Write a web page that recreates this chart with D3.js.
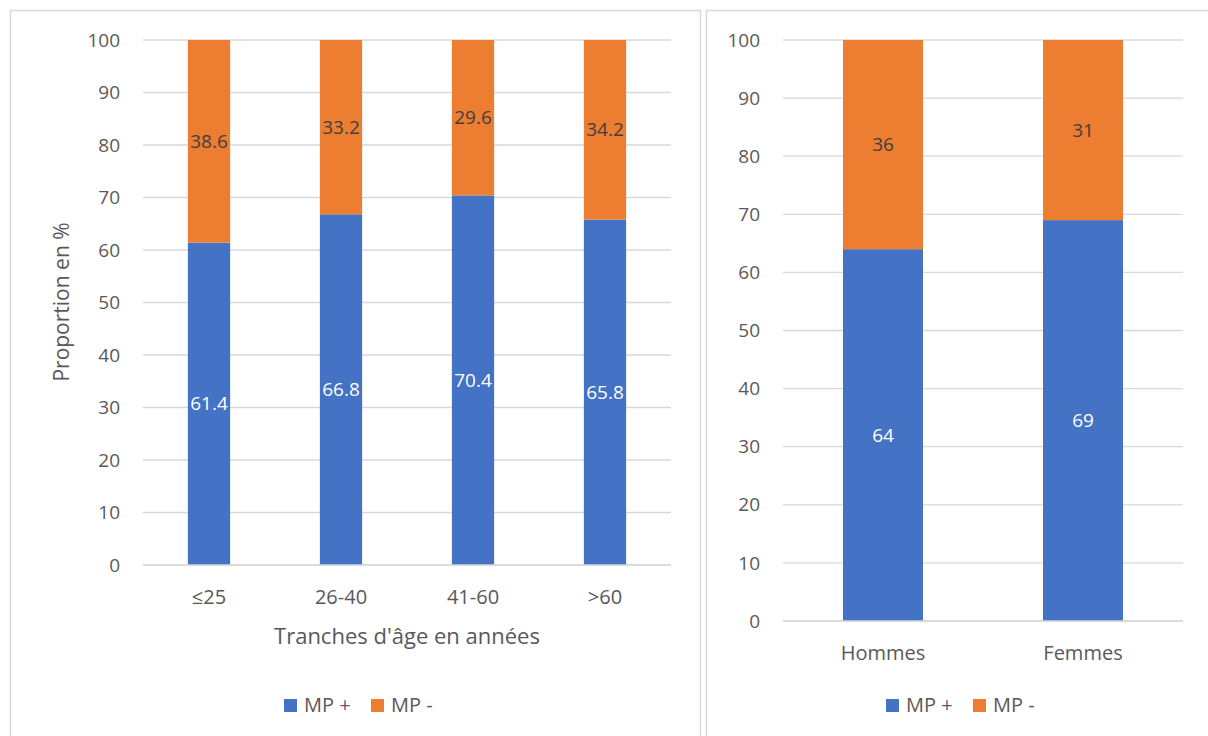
<!DOCTYPE html>
<html><head><meta charset="utf-8">
<script src="https://cdn.jsdelivr.net/npm/d3@7"></script>
<style>body{margin:0;background:#fff;} text{font-family:"Open Sans","Noto Sans",sans-serif;}</style>
</head><body>
<svg id="c" width="1208" height="736"></svg>
<script>
const ageCategories = ["≤25", "26-40", "41-60", ">60"];
const ageMPplus = [61.4, 66.8, 70.4, 65.8];
const ageMPminus = [38.6, 33.2, 29.6, 34.2];
const sexCategories = ["Hommes", "Femmes"];
const sexMPplus = [64, 69];
const sexMPminus = [36, 31];
const yTicks = [0,10,20,30,40,50,60,70,80,90,100];
const seriesNames = ["MP +", "MP -"];
const colors = ["#4472C4", "#ED7D31"];

const svg = d3.select("#c");
svg.append("rect").attr("x",10.5).attr("y",10.5).attr("width",690).attr("height",740).attr("fill","none").attr("stroke","#d9d9d9").attr("stroke-width",1.5);
svg.append("rect").attr("x",706.5).attr("y",10.5).attr("width",520).attr("height",740).attr("fill","none").attr("stroke","#d9d9d9").attr("stroke-width",1.5);

function panel(o){
  const g = svg.append("g");
  const x = d3.scaleBand().domain(o.cats).range([o.x0,o.x1]).paddingInner(o.pad).paddingOuter(o.pad/2);
  const y = d3.scaleLinear().domain([0,100]).range([o.y0,o.y1]);
  g.selectAll(".grid").data(yTicks).join("line")
    .attr("x1",o.x0).attr("x2",o.x1).attr("y1",d=>y(d)).attr("y2",d=>y(d))
    .attr("stroke","#d9d9d9").attr("stroke-width",1.3);
  g.selectAll(".yl").data(yTicks).join("text")
    .attr("x",o.x0-23).attr("y",d=>y(d)).attr("dy","0.35em").attr("text-anchor","end")
    .attr("font-size",19).attr("fill","#595959").text(d=>d);
  const stack = o.cats.map((c,i)=>({c, a:o.plus[i], b:o.minus[i]}));
  g.selectAll(".bp").data(stack).join("rect")
    .attr("x",d=>x(d.c)).attr("width",x.bandwidth()).attr("y",d=>y(d.a)).attr("height",d=>y(0)-y(d.a)).attr("fill",colors[0]);
  g.selectAll(".bm").data(stack).join("rect")
    .attr("x",d=>x(d.c)).attr("width",x.bandwidth()).attr("y",d=>y(d.a+d.b)).attr("height",d=>y(d.a)-y(d.a+d.b)).attr("fill",colors[1]);
  g.append("line").attr("x1",o.x0).attr("x2",o.x1).attr("y1",y(0)).attr("y2",y(0)).attr("stroke","#d9d9d9").attr("stroke-width",1.5);
  g.selectAll(".lp").data(stack).join("text")
    .attr("x",d=>x(d.c)+x.bandwidth()/2).attr("y",d=>y(d.a/2)).attr("dy","0.35em").attr("text-anchor","middle")
    .attr("font-size",19).attr("fill","#ffffff").text(d=>d.a);
  g.selectAll(".lm").data(stack).join("text")
    .attr("x",d=>x(d.c)+x.bandwidth()/2).attr("y",d=>y(d.a+d.b/2)).attr("dy","0.35em").attr("text-anchor","middle")
    .attr("font-size",19).attr("fill","#404040").text(d=>d.b);
  g.selectAll(".xl").data(o.cats).join("text")
    .attr("x",d=>x(d)+x.bandwidth()/2).attr("y",y(0)+32).attr("dy","0.35em").attr("text-anchor","middle")
    .attr("font-size",20).attr("fill","#595959").text(d=>d);
  const lg = g.append("g").attr("transform",`translate(${o.legX},${o.legY})`);
  seriesNames.forEach((n,i)=>{
    const xx = i*87;
    lg.append("rect").attr("x",xx).attr("y",-6).attr("width",13).attr("height",13).attr("fill",colors[i]);
    lg.append("text").attr("x",xx+20).attr("y",0).attr("dy","0.35em").attr("font-size",20).attr("fill","#595959").text(n);
  });
  return {x,y,g};
}

const p1 = panel({cats:ageCategories, plus:ageMPplus, minus:ageMPminus, x0:143, x1:671, y0:565, y1:40, pad:0.68, legX:284, legY:705});
p1.g.append("text").attr("x",407).attr("y",636).attr("dy","0.35em").attr("text-anchor","middle").attr("font-size",22).attr("fill","#595959").text("Tranches d'âge en années");
p1.g.append("text").attr("transform","translate(62,302) rotate(-90)").attr("dy","0.35em").attr("text-anchor","middle").attr("font-size",21).attr("fill","#595959").text("Proportion en %");
const p2 = panel({cats:sexCategories, plus:sexMPplus, minus:sexMPminus, x0:783, x1:1183, y0:621, y1:40, pad:0.6, legX:886, legY:705});
</script>
</body></html>
